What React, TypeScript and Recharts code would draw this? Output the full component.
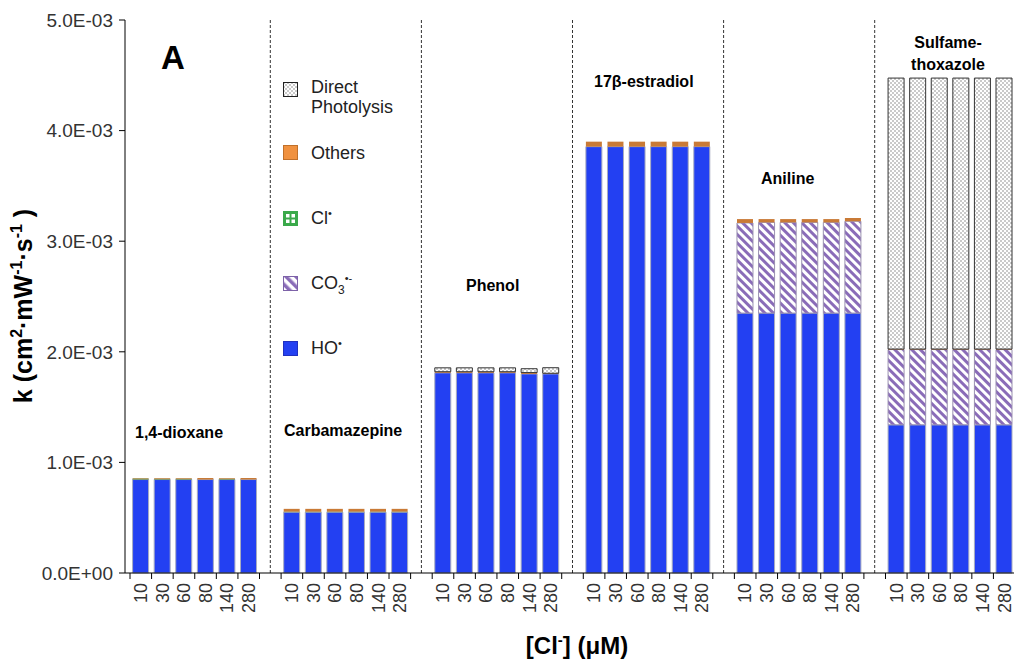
import { BarChart, Bar, XAxis, YAxis, ReferenceLine } from "recharts";

const compounds = ["1,4-dioxane", "Carbamazepine", "Phenol", "17β-estradiol", "Aniline", "Sulfamethoxazole"];
const chlorideConc = ["10", "30", "60", "80", "140", "280"];
const yTicks = [0, 1, 2, 3, 4, 5];

// rate constants in units of 1E-03 cm2·mW-1·s-1, one row per compound, one value per [Cl-]
const hoRate = [
  [0.845, 0.845, 0.845, 0.845, 0.845, 0.845],
  [0.55, 0.55, 0.55, 0.55, 0.55, 0.55],
  [1.81, 1.81, 1.81, 1.81, 1.80, 1.80],
  [3.855, 3.855, 3.855, 3.855, 3.855, 3.855],
  [2.35, 2.35, 2.35, 2.35, 2.35, 2.35],
  [1.34, 1.34, 1.34, 1.34, 1.34, 1.34],
];
const co3Rate = [
  [0, 0, 0, 0, 0, 0],
  [0, 0, 0, 0, 0, 0],
  [0, 0, 0, 0, 0, 0],
  [0, 0, 0, 0, 0, 0],
  [0.815, 0.82, 0.82, 0.82, 0.82, 0.83],
  [0.68, 0.68, 0.68, 0.68, 0.68, 0.68],
];
const clRate = [
  [0.01, 0.008, 0.008, 0, 0.008, 0],
  [0.005, 0.005, 0.005, 0.005, 0.005, 0.005],
  [0, 0, 0, 0, 0, 0],
  [0, 0, 0, 0, 0, 0],
  [0, 0, 0, 0, 0, 0],
  [0, 0, 0, 0, 0, 0],
];
const othersRate = [
  [0.004, 0.006, 0.006, 0.014, 0.006, 0.014],
  [0.025, 0.025, 0.025, 0.025, 0.025, 0.025],
  [0.01, 0.01, 0.01, 0.01, 0.012, 0.006],
  [0.045, 0.045, 0.045, 0.045, 0.045, 0.045],
  [0.035, 0.03, 0.03, 0.03, 0.03, 0.03],
  [0.005, 0.005, 0.005, 0.005, 0.005, 0.005],
];
const directRate = [
  [0, 0, 0, 0, 0, 0],
  [0, 0, 0, 0, 0, 0],
  [0.035, 0.035, 0.035, 0.035, 0.035, 0.05],
  [0, 0, 0, 0, 0, 0],
  [0, 0, 0, 0, 0, 0],
  [2.45, 2.45, 2.45, 2.45, 2.45, 2.45],
];

const rows: any[] = [];
const gapKeys: string[] = [];
compounds.forEach((c, ci) => {
  if (ci > 0) {
    rows.push({ key: `gap${ci}` });
    gapKeys.push(`gap${ci}`);
  }
  chlorideConc.forEach((conc, i) => {
    rows.push({
      key: `${ci}-${conc}`,
      ho: hoRate[ci][i],
      co3: co3Rate[ci][i],
      cl: clRate[ci][i],
      others: othersRate[ci][i],
      direct: directRate[ci][i],
    });
  });
});

const W = 1014;
const H = 659;
const CHART_W = 1015;
const PLOT_LEFT = 125;
const X_PAD = 5;
const PLOT_BOTTOM = 573;
const BAND = (CHART_W - PLOT_LEFT - X_PAD) / rows.length;
const FONT = '"Liberation Sans", Arial, Helvetica, sans-serif';

const fmtY = (v: number) => (v === 0 ? "0.0E+00" : `${v.toFixed(1)}E-03`);

const ConcTick = (props: any) => {
  const { x, payload } = props;
  const key: string = payload.value;
  const label = key.startsWith("gap") ? "" : key.split("-")[1];
  const left = x - BAND / 2;
  return (
    <g>
      <line x1={left} x2={left} y1={PLOT_BOTTOM} y2={PLOT_BOTTOM + 6} stroke="#000" />
      {label && (
        <text
          transform={`translate(${x},${PLOT_BOTTOM + 10}) rotate(-90)`}
          textAnchor="end"
          dy="0.35em"
          fontSize={18}
          fill="#333"
          fontFamily={FONT}
        >
          {label}
        </text>
      )}
    </g>
  );
};

const groupLabels = [
  { text: "1,4-dioxane", left: 135, top: 424 },
  { text: "Carbamazepine", left: 284, top: 422 },
  { text: "Phenol", left: 466, top: 277 },
  { text: "17β-estradiol", left: 594, top: 73 },
  { text: "Aniline", left: 761, top: 170 },
];

const sup = { fontSize: 11, verticalAlign: "super", lineHeight: 0 } as const;

const App = () => {
  return (
    <div style={{ position: "absolute", left: 0, top: 0, width: W, height: H, background: "#fff", fontFamily: FONT, overflow: "hidden" }}>
      <BarChart
        width={CHART_W}
        height={H}
        data={rows}
        margin={{ top: 20, right: 0, bottom: 26, left: 0 }}
        barCategoryGap="12%"
      >
        <defs>
          <pattern id="stripes" patternUnits="userSpaceOnUse" width={6} height={6} patternTransform="rotate(-45)">
            <rect width={6} height={6} fill="#fff" />
            <rect width={3} height={6} fill="#8a6cb8" />
          </pattern>
          <pattern id="dots" patternUnits="userSpaceOnUse" width={4} height={4}>
            <rect width={4} height={4} fill="#fff" />
            <circle cx={1} cy={1} r={0.8} fill="#888" />
            <circle cx={3} cy={3} r={0.8} fill="#888" />
          </pattern>
          <pattern id="stripesIcon" patternUnits="userSpaceOnUse" width={7} height={7} patternTransform="rotate(-45)">
            <rect width={7} height={7} fill="#fff" />
            <rect width={3.5} height={7} fill="#8a6cb8" />
          </pattern>
        </defs>
        <XAxis
          dataKey="key"
          interval={0}
          height={60}
          padding={{ left: X_PAD, right: 0 }}
          tick={<ConcTick />}
          tickLine={false}
          axisLine={{ stroke: "#000" }}
        />
        <YAxis
          width={PLOT_LEFT}
          domain={[0, 5]}
          ticks={yTicks}
          tickFormatter={fmtY}
          tickSize={6}
          tickMargin={6}
          tick={{ fontSize: 19, fill: "#333", fontFamily: FONT }}
          axisLine={{ stroke: "#000" }}
          tickLine={{ stroke: "#000" }}
        />
        {gapKeys.map((k) => (
          <ReferenceLine key={k} x={k} stroke="#333" strokeDasharray="3 2" />
        ))}
        <Bar dataKey="ho" stackId="a" fill="#2340f2" stroke="#a8acc0" strokeWidth={1} isAnimationActive={false} />
        <Bar dataKey="co3" stackId="a" fill="url(#stripes)" stroke="#9a90b0" strokeWidth={1} isAnimationActive={false} />
        <Bar dataKey="cl" stackId="a" fill="#5b8a3a" isAnimationActive={false} />
        <Bar dataKey="others" stackId="a" fill="#c97a36" isAnimationActive={false} />
        <Bar dataKey="direct" stackId="a" fill="url(#dots)" stroke="#333" strokeWidth={1} isAnimationActive={false} />
      </BarChart>

      {/* annotations */}
      <div style={{ position: "absolute", left: 161, top: 39, fontSize: 33, fontWeight: "bold" }}>A</div>
      {groupLabels.map((g) => (
        <div key={g.text} style={{ position: "absolute", left: g.left, top: g.top, fontSize: 16, fontWeight: "bold", whiteSpace: "nowrap" }}>
          {g.text}
        </div>
      ))}
      <div style={{ position: "absolute", left: 903, top: 32, width: 90, fontSize: 16, fontWeight: "bold", textAlign: "center", lineHeight: "22px" }}>
        Sulfame-
        <br />
        thoxazole
      </div>

      {/* legend */}
      <svg width={16} height={16} style={{ position: "absolute", left: 283, top: 82 }}>
        <rect x={0.5} y={0.5} width={14} height={14} fill="url(#dots)" stroke="#222" />
      </svg>
      <div style={{ position: "absolute", left: 311, top: 77, fontSize: 18, lineHeight: "20px", color: "#222" }}>
        Direct
        <br />
        Photolysis
      </div>

      <svg width={16} height={16} style={{ position: "absolute", left: 283, top: 145 }}>
        <rect x={0.5} y={0.5} width={14} height={14} fill="#f0913f" stroke="#c0702a" />
      </svg>
      <div style={{ position: "absolute", left: 311, top: 143, fontSize: 18, color: "#222" }}>Others</div>

      <svg width={16} height={16} style={{ position: "absolute", left: 283, top: 211 }}>
        <rect x={0.5} y={0.5} width={14} height={14} fill="#3aa94a" stroke="#3aa94a" />
        <rect x={3} y={3} width={3.5} height={3.5} fill="#fff" />
        <rect x={8.5} y={3} width={3.5} height={3.5} fill="#fff" />
        <rect x={3} y={8.5} width={3.5} height={3.5} fill="#fff" />
        <rect x={8.5} y={8.5} width={3.5} height={3.5} fill="#fff" />
      </svg>
      <div style={{ position: "absolute", left: 311, top: 208, fontSize: 18, color: "#222" }}>
        Cl<span style={sup}>•</span>
      </div>

      <svg width={16} height={16} style={{ position: "absolute", left: 283, top: 276 }}>
        <rect x={0.5} y={0.5} width={14} height={14} fill="url(#stripesIcon)" stroke="#7d62a8" />
      </svg>
      <div style={{ position: "absolute", left: 311, top: 273, fontSize: 18, color: "#222", whiteSpace: "nowrap" }}>
        CO<span style={{ fontSize: 12, verticalAlign: "sub", lineHeight: 0 }}>3</span>
        <span style={sup}>•-</span>
      </div>

      <svg width={16} height={16} style={{ position: "absolute", left: 283, top: 341 }}>
        <rect x={0.5} y={0.5} width={14} height={14} fill="#2340f2" stroke="#2030c0" />
      </svg>
      <div style={{ position: "absolute", left: 311, top: 338, fontSize: 18, color: "#222" }}>
        HO<span style={sup}>•</span>
      </div>

      {/* axis titles */}
      <div
        style={{
          position: "absolute",
          left: 23,
          top: 306,
          transform: "translate(-50%, -50%) rotate(-90deg)",
          fontSize: 25,
          fontWeight: "bold",
          whiteSpace: "nowrap",
        }}
      >
        k (cm<span style={{ fontSize: 16, verticalAlign: "super", lineHeight: 0 }}>2</span>·mW
        <span style={{ fontSize: 16, verticalAlign: "super", lineHeight: 0 }}>-1</span>·s
        <span style={{ fontSize: 16, verticalAlign: "super", lineHeight: 0 }}>-1</span> )
      </div>
      <div style={{ position: "absolute", left: 577, top: 632, transform: "translateX(-50%)", fontSize: 24, fontWeight: "bold", whiteSpace: "nowrap" }}>
        [Cl<span style={{ fontSize: 15, verticalAlign: "super", lineHeight: 0 }}>-</span>] (μM)
      </div>
    </div>
  );
};

export default App;
